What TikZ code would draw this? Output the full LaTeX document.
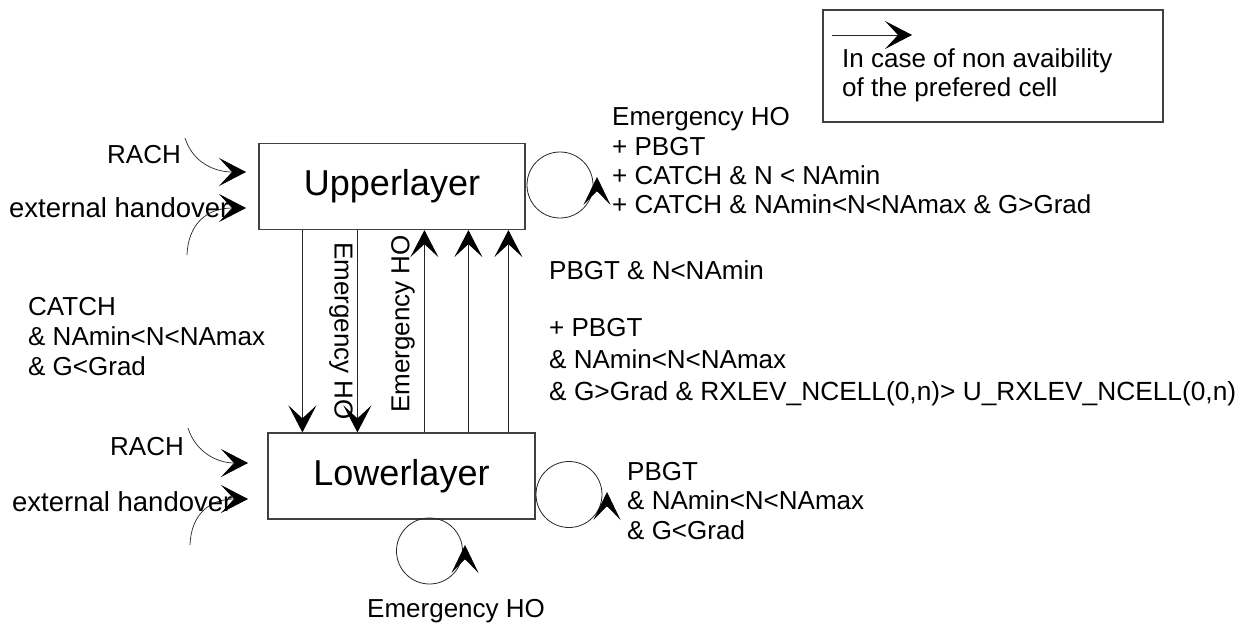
\documentclass[tikz,border=0pt]{standalone}
\usepackage{fontspec}
\setmainfont{Liberation Sans}
\usetikzlibrary{arrows.meta}
\begin{document}
\begin{tikzpicture}[x=1pt,y=-1pt,
  txt/.style={font=\fontsize{26}{30}\selectfont, inner sep=0pt, anchor=base west},
  vtxt/.style={font=\fontsize{26}{30}\selectfont, inner sep=0pt},
  layerbox/.style={draw=black!75, line width=1.2pt, minimum width=266pt, minimum height=86pt, inner sep=0pt, font=\fontsize{36}{40}\selectfont},
  conn/.style={line width=0.9pt, draw=black!85},
  thinconn/.style={line width=0.7pt, draw=black!85},
  tip/.style={-{Stealth[length=27pt,width=28pt,inset=13pt,black]}},
  looptip/.style={-{Stealth[length=28pt,width=27pt,inset=14pt,black]}},
  loopc/.style={circle, draw=black!85, line width=0.8pt, minimum size=66pt, inner sep=0pt}
]
\useasboundingbox (0,0) rectangle (1247,623);

% layer boxes
\node[layerbox] (up) at (392,186.5) {Upperlayer};
\node[layerbox, minimum width=267pt] (low) at (401.5,476) {Lowerlayer};

% vertical connectors
\draw[conn,tip] ([xshift=44pt]up.south west) -- ([xshift=35pt]low.north west);
\draw[conn,tip] ([xshift=99pt]up.south west) -- ([xshift=90pt]low.north west);
\draw[conn,tip] ([xshift=157pt]low.north west) -- ([xshift=166pt]up.south west);
\draw[conn,tip] ([xshift=201pt]low.north west) -- ([xshift=210pt]up.south west);
\draw[conn,tip] ([xshift=241pt]low.north west) -- ([xshift=250pt]up.south west);

\node[vtxt, rotate=-90] (eho1) at (341,331) {Emergency HO};
\node[vtxt, rotate=90] (eho2) at (403,324) {Emergency HO};

% incoming arrows, upper layer
\coordinate (rachUs) at (185,138);
\coordinate (rachUt) at (246,172);
\draw[thinconn,tip] (rachUs) .. controls (193,163) and (215,172) .. (rachUt);
\coordinate (extUs) at (187,255);
\coordinate (extUt) at (246,208);
\draw[thinconn,tip] (extUs) .. controls (188,226) and (205,208) .. (extUt);
\node[txt] (rachU) at (107,163) {RACH};
\node[txt, font=\fontsize{27.5}{30}\selectfont] (extU) at (9,217) {external handover};

% incoming arrows, lower layer
\coordinate (rachLs) at (188,428);
\coordinate (rachLt) at (248,463);
\draw[thinconn,tip] (rachLs) .. controls (196,453) and (218,463) .. (rachLt);
\coordinate (extLs) at (190,545);
\coordinate (extLt) at (248,499);
\draw[thinconn,tip] (extLs) .. controls (191,516) and (208,499) .. (extLt);
\node[txt] (rachL) at (110,455) {RACH};
\node[txt, font=\fontsize{27.5}{30}\selectfont] (extL) at (12,511) {external handover};

% self loops
\node[loopc] (lu) at (560,185) {};
\coordinate (luA) at (597,192);
\coordinate (luB) at (597,177);
\draw[looptip] (luA) -- (luB);
\node[loopc] (lr) at (569,494.5) {};
\coordinate (lrA) at (607,507);
\coordinate (lrB) at (607,492);
\draw[looptip] (lrA) -- (lrB);
\node[loopc] (lb) at (429.5,551) {};
\coordinate (lbA) at (465,560);
\coordinate (lbB) at (465,545);
\draw[looptip] (lbA) -- (lbB);

% left condition
\node[txt] (c1) at (28,315) {CATCH};
\node[txt] (c2) at (28,345) {\& NAmin<N<NAmax};
\node[txt] (c3) at (28,375) {\& G<Grad};

% upper loop conditions
\node[txt] (u1) at (612,126) {Emergency HO};
\node[txt] (u2) at (612,155) {+ PBGT};
\node[txt] (u3) at (612,184) {+ CATCH \& N < NAmin};
\node[txt] (u4) at (612,213) {+ CATCH \& NAmin<N<NAmax \& G>Grad};

% upward conditions
\node[txt] (p1) at (549,279) {PBGT \& N<NAmin};
\node[txt] (p2) at (549,336) {+ PBGT};
\node[txt] (p3) at (549,368) {\& NAmin<N<NAmax};
\node[txt, font=\fontsize{26.3}{30}\selectfont] (p4) at (549,400) {\& G>Grad \& RXLEV\_NCELL(0,n)> U\_RXLEV\_NCELL(0,n)};

% lower loop conditions
\node[txt] (l1) at (627,480) {PBGT};
\node[txt] (l2) at (627,509) {\& NAmin<N<NAmax};
\node[txt] (l3) at (627,539) {\& G<Grad};

\node[txt] (eb) at (367,617) {Emergency HO};

% legend
\node[draw=black!75, line width=1.2pt, minimum width=340pt, minimum height=112pt, inner sep=0pt] (legend) at (993,66) {};
\coordinate (legA) at (832,35);
\coordinate (legB) at (912,35);
\draw[conn,tip] (legA) -- (legB);
\node[txt] (lg1) at (842,68) {In case of non avaibility};
\node[txt] (lg2) at (842,97) {of the prefered cell};
\end{tikzpicture}
\end{document}
